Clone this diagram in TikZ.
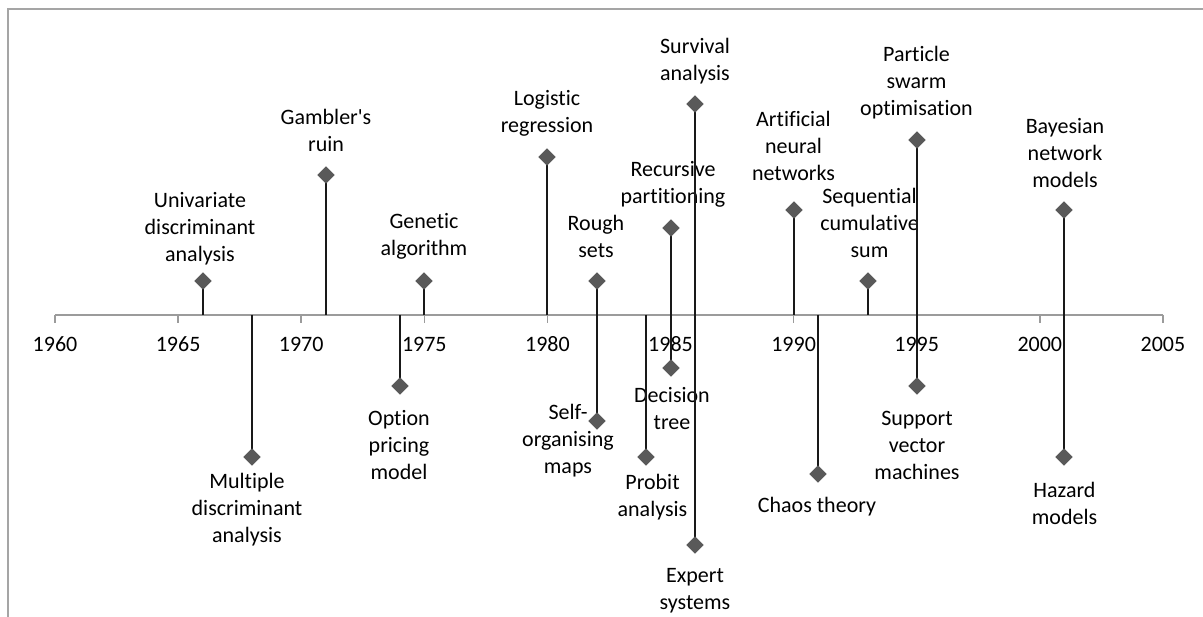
\documentclass[tikz,border=0pt]{standalone}
\usepackage{fontspec}
\setmainfont{Carlito}[Ligatures={TeXOff,NoCommon}]
\usetikzlibrary{shapes.geometric}
\definecolor{framegray}{RGB}{165,165,165}
\definecolor{axisgray}{RGB}{155,155,155}
\definecolor{markgray}{RGB}{89,89,89}
\begin{document}
\begin{tikzpicture}[x=1pt,y=-1pt,
  lbl/.style={align=center,inner sep=0pt,font=\fontsize{22}{27}\selectfont},
  mk/.style={diamond,aspect=1,fill=markgray,inner sep=0pt,minimum size=17pt},
  stem/.style={line width=2pt,black!90},
  axisline/.style={line width=2pt,axisgray},
  tickline/.style={line width=1.6pt,axisgray},
  frameline/.style={line width=1.6pt,framegray}]
\useasboundingbox (0,0) rectangle (1203,617);
% frame
\coordinate (fa) at (8,617);
\coordinate (fb) at (8,9);
\coordinate (fc) at (1203,9);
\draw[frameline] (fa) -- (fb) -- (fc);
% axis
\coordinate (ax0) at (55,315);
\coordinate (ax1) at (1163,315);
\draw[axisline] (ax0) -- (ax1);
\foreach \yr [count=\i from 0] in {1960,1965,...,2005}{
  \coordinate (t\yr) at ({55+\i*123.1},315);
  \coordinate (tb\yr) at ({55+\i*123.1},323);
  \draw[tickline] (t\yr) -- (tb\yr);
  \node[lbl] (y\yr) at ({55+\i*123.1},344) {\yr};
}
% labels
\node[lbl] (Luni) at (200,229) {Univariate\\discriminant\\analysis};
\node[lbl] (Lgam) at (326,130.5) {Gambler's\\ruin};
\node[lbl] (Lmul) at (247,510) {Multiple\\discriminant\\analysis};
\node[lbl] (Lgen) at (424,236.5) {Genetic\\algorithm};
\node[lbl] (Lopt) at (399,445) {Option\\pricing\\model};
\node[lbl] (Llog) at (547,113.5) {Logistic\\regression};
\node[lbl] (Lrou) at (596,236.5) {Rough\\sets};
\node[lbl] (Lsom) at (568,441) {Self-\\organising\\maps};
\node[lbl] (Lrec) at (673,184.5) {Recursive\\partitioning};
\node[lbl] (Ldec) at (672,408.5) {Decision\\tree};
\node[lbl] (Lpro) at (652.5,497.5) {Probit\\analysis};
\node[lbl] (Lsur) at (695,61) {Survival\\analysis};
\node[lbl] (Lexp) at (695,590.5) {Expert\\systems};
\node[lbl] (Lann) at (793.5,146) {Artificial\\neural\\networks};
\node[lbl] (Lcha) at (817,507) {Chaos theory};
\node[lbl] (Lseq) at (869.5,223) {Sequential\\cumulative\\sum};
\node[lbl] (Lpso) at (916.5,83) {Particle\\swarm\\optimisation};
\node[lbl] (Lsvm) at (917,445) {Support\\vector\\machines};
\node[lbl] (Lbay) at (1065,153.5) {Bayesian\\network\\models};
\node[lbl] (Lhaz) at (1064.5,503) {Hazard\\models};
% axis anchor points
\coordinate (a1966) at (203,315);
\coordinate (a1968) at (252,315);
\coordinate (a1971) at (326,315);
\coordinate (a1974) at (400,315);
\coordinate (a1975) at (424,315);
\coordinate (a1980) at (547,315);
\coordinate (a1982) at (597,315);
\coordinate (a1984) at (646,315);
\coordinate (a1985) at (671,315);
\coordinate (a1986) at (695,315);
\coordinate (a1990) at (794,315);
\coordinate (a1991) at (818,315);
\coordinate (a1993) at (868,315);
\coordinate (a1995) at (917,315);
\coordinate (a2001) at (1064,315);
% markers
\node[mk] (Muni) at (203,281) {};
\node[mk] (Mgam) at (326,175) {};
\node[mk] (Mmul) at (252,457) {};
\node[mk] (Mgen) at (424,281) {};
\node[mk] (Mopt) at (400,386) {};
\node[mk] (Mlog) at (547,157) {};
\node[mk] (Mrou) at (597,281) {};
\node[mk] (Msom) at (597,421) {};
\node[mk] (Mrec) at (671,228) {};
\node[mk] (Mdec) at (671,368) {};
\node[mk] (Mpro) at (646,457) {};
\node[mk] (Msur) at (695,104) {};
\node[mk] (Mexp) at (695,545) {};
\node[mk] (Mann) at (794,210) {};
\node[mk] (Mcha) at (818,474) {};
\node[mk] (Mseq) at (868,281) {};
\node[mk] (Mpso) at (917,140) {};
\node[mk] (Msvm) at (917,386) {};
\node[mk] (Mbay) at (1064,210) {};
\node[mk] (Mhaz) at (1064,457) {};
% stems
\foreach \a/\m in {1966/uni,1971/gam,1968/mul,1975/gen,1974/opt,1980/log,1982/rou,1982/som,1985/rec,1985/dec,1984/pro,1986/sur,1986/exp,1990/ann,1991/cha,1993/seq,1995/pso,1995/svm,2001/bay,2001/haz}{
  \draw[stem] (a\a) -- (M\m.center);
}
% redraw markers on top
\foreach \m in {uni,gam,mul,gen,opt,log,rou,som,rec,dec,pro,sur,exp,ann,cha,seq,pso,svm,bay,haz}{
  \fill[markgray] (M\m.north) -- (M\m.east) -- (M\m.south) -- (M\m.west) -- cycle;
}
\end{tikzpicture}
\end{document}
